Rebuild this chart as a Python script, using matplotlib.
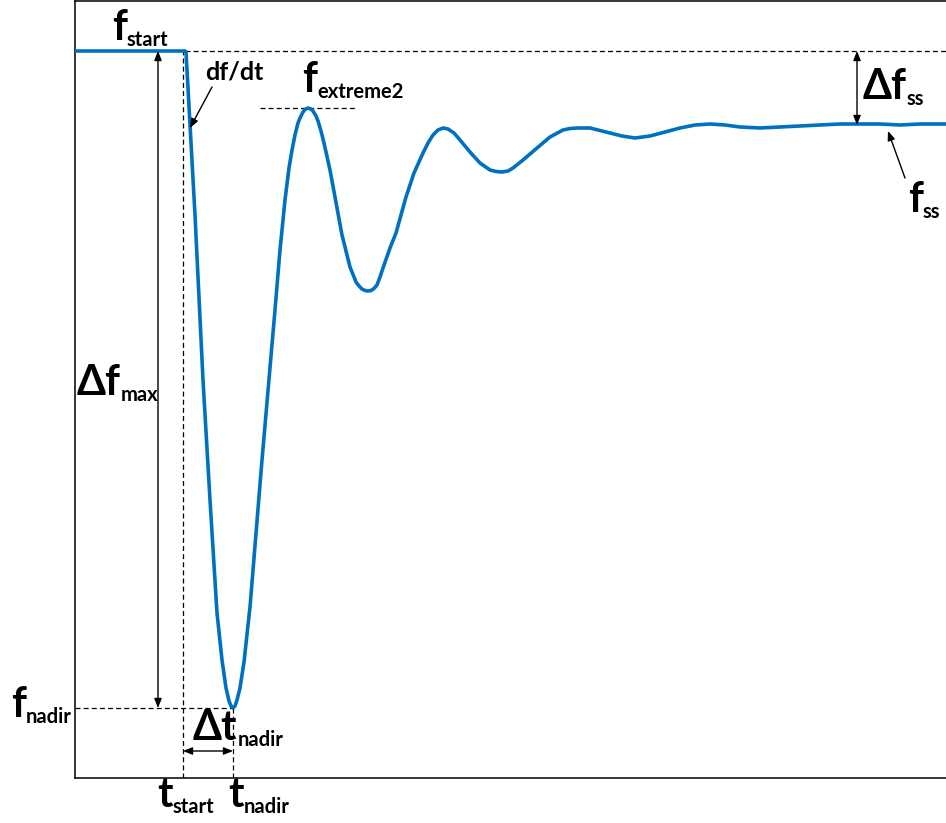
import matplotlib
matplotlib.use('Agg')
import matplotlib.pyplot as plt

# frequency response (time in s, frequency in Hz)
time = [0.00, 1.10, 1.11, 1.20, 1.28, 1.35, 1.42, 1.47, 1.51, 1.54, 1.56, 1.58,
        1.60, 1.62, 1.65, 1.69, 1.75, 1.87, 2.00, 2.05, 2.10, 2.14, 2.17, 2.20,
        2.23, 2.25, 2.28, 2.30, 2.33, 2.36, 2.38, 2.41, 2.43, 2.46, 2.49, 2.55,
        2.60, 2.67, 2.75, 2.81, 2.84, 2.87, 2.90, 2.93, 2.96, 2.99, 3.02, 3.05,
        3.08, 3.15, 3.21, 3.26, 3.31, 3.39, 3.48, 3.53, 3.58, 3.63, 3.68, 3.73,
        3.79, 3.85, 3.95, 4.05, 4.15, 4.21, 4.27, 4.33, 4.38, 4.48, 4.62, 4.75,
        4.88, 4.95, 5.02, 5.15, 5.23, 5.35, 5.47, 5.60, 5.75, 5.90, 6.05, 6.20,
        6.35, 6.50, 6.65, 6.85, 7.05, 7.25, 7.45, 7.65, 7.85, 8.05, 8.25, 8.45,
        8.71]
freq = [50.000, 50.000, 49.999, 49.836, 49.671, 49.551, 49.438, 49.391, 49.363, 49.350, 49.345, 49.343,
        49.345, 49.351, 49.363, 49.389, 49.444, 49.591, 49.741, 49.801, 49.851, 49.883, 49.901, 49.916,
        49.928, 49.933, 49.939, 49.9415, 49.943, 49.942, 49.940, 49.935, 49.930, 49.920, 49.908, 49.881,
        49.854, 49.816, 49.784, 49.769, 49.765, 49.762, 49.7605, 49.760, 49.7605, 49.7625, 49.766, 49.774,
        49.783, 49.803, 49.818, 49.836, 49.854, 49.878, 49.898, 49.908, 49.916, 49.921, 49.923, 49.922,
        49.918, 49.911, 49.899, 49.888, 49.881, 49.8795, 49.879, 49.880, 49.883, 49.891, 49.903, 49.914,
        49.921, 49.9225, 49.923, 49.923, 49.921, 49.918, 49.915, 49.913, 49.915, 49.919, 49.923, 49.926,
        49.927, 49.926, 49.924, 49.923, 49.924, 49.925, 49.926, 49.927, 49.927, 49.927, 49.926, 49.927,
        49.927]

# key values
f_start = 50.0
f_nadir = 49.343
f_ss = 49.926
f_ext2 = 49.943
t_start = 1.08
t_nadir = 1.58

FONT = ['Lato', 'DejaVu Sans']

fig = plt.figure(figsize=(9.46, 8.23), dpi=100)
ax = fig.add_axes([75 / 946, 45 / 823, 871 / 946, 777.5 / 823])
ax.set_xlim(0, 8.71)
ax.set_ylim(49.273, 50.0505)
ax.set_xticks([])
ax.set_yticks([])
ax.spines['right'].set_visible(False)
for s in ['left', 'bottom', 'top']:
    ax.spines[s].set_linewidth(1.1)

ax.plot(time, freq, color='#0070C0', lw=2.6, solid_joinstyle='round', zorder=3)

dash = dict(color='black', lw=0.9, linestyle=(0, (4, 2.5)))
ax.plot([1.10, 8.71], [f_start, f_start], **dash)
ax.plot([t_start, t_start], [49.273, f_start], **dash)
ax.plot([0, t_nadir], [f_nadir, f_nadir], **dash)
ax.plot([t_nadir, t_nadir], [49.273, f_nadir], **dash)
ax.plot([1.85, 2.82], [f_ext2, f_ext2], **dash)

both = dict(arrowstyle='<|-|>,head_length=0.55,head_width=0.22', color='black', lw=1.0,
            shrinkA=0, shrinkB=0)
one = dict(arrowstyle='-|>,head_length=0.55,head_width=0.22', color='black', lw=1.0,
           shrinkA=0, shrinkB=0)
ax.annotate('', xy=(0.83, f_nadir), xytext=(0.83, f_start), arrowprops=both)
ax.annotate('', xy=(7.82, f_ss), xytext=(7.82, f_start), arrowprops=both)
ax.annotate('', xy=(t_nadir, 49.300), xytext=(t_start, 49.300), arrowprops=both)
ax.annotate('', xy=(1.15, 49.923), xytext=(1.37, 49.964), arrowprops=one)
ax.annotate('', xy=(8.13, 49.920), xytext=(8.30, 49.873), arrowprops=one)


def sublabel(x, y, main, sub, size=30, subsize=14.5):
    t = ax.text(x, y, main, fontsize=size, fontweight='bold', family=FONT,
                ha='left', va='baseline', clip_on=False)
    ax.annotate(sub, xy=(1, 0), xycoords=t, xytext=(0, 1), textcoords='offset points',
                fontsize=subsize, fontweight='bold', family=FONT, ha='left', va='baseline')


sublabel(0.37, 50.011, 'f', 'start')
sublabel(2.27, 49.959, 'f', 'extreme2')
sublabel(7.88, 49.952, 'Δf', 'ss')
sublabel(8.33, 49.839, 'f', 'ss')
sublabel(0.02, 49.656, 'Δf', 'max')
sublabel(-0.64, 49.334, 'f', 'nadir')
sublabel(1.18, 49.311, 'Δt', 'nadir')
sublabel(0.82, 49.244, 't', 'start')
sublabel(1.53, 49.244, 't', 'nadir')
ax.text(1.30, 49.971, 'df/dt', fontsize=18, fontweight='bold', family=FONT,
        ha='left', va='baseline')

fig.savefig('out.png', dpi=100)
